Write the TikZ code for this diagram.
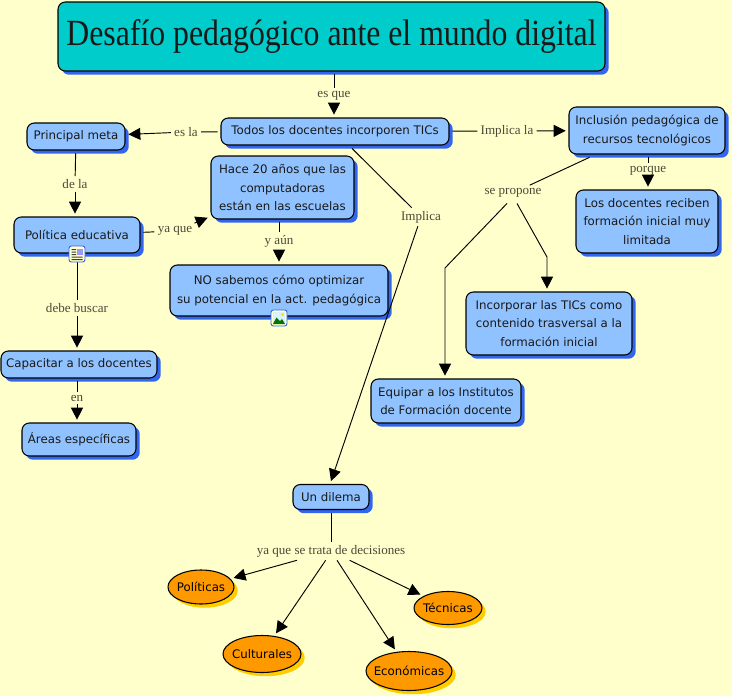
\documentclass[tikz,border=0pt]{standalone}
\usepackage{fontspec}
\setmainfont{DejaVu Sans}
\newfontfamily\titlefont[FakeStretch=0.86]{Liberation Serif}
\newfontfamily\linkfont{Liberation Serif}
\usetikzlibrary{arrows.meta,shadows,shapes.geometric,calc}
\definecolor{bgc}{HTML}{FFFFCC}
\definecolor{boxc}{HTML}{90C2FF}
\definecolor{boxsh}{HTML}{3366EE}
\definecolor{titc}{HTML}{00CCCC}
\definecolor{ellc}{HTML}{FF9900}
\definecolor{ellsh}{HTML}{FFCC00}
\definecolor{linkc}{HTML}{4A4A38}
\def\px{0.75pt}
\tikzset{
  concept/.style={draw=black,line width=0.8pt,rounded corners=5.5pt,fill=boxc,align=center,inner sep=0pt,outer sep=2.5pt,
    general shadow={fill=boxsh,shadow xshift=2.8pt,shadow yshift=-2.8pt},
    font=\fontsize{8.85}{14}\selectfont,text=black!90},
  titlebox/.style={concept,fill=titc,font=\titlefont\fontsize{27.7}{30}\selectfont},
  oval/.style={ellipse,draw=black,line width=0.8pt,fill=ellc,inner sep=0pt,outer sep=2.5pt,
    general shadow={fill=ellsh,shadow xshift=2.8pt,shadow yshift=-2.8pt},
    font=\fontsize{8.85}{14}\selectfont},
  linklabel/.style={inner sep=1pt,outer sep=1.5pt,text=linkc,font=\linkfont\fontsize{9.8}{10}\selectfont},
  plain/.style={draw=black,line width=0.7pt},
  arrowed/.style={plain,-{Triangle[length=9pt,width=9pt]}},
  iconbox/.style={draw=boxsh,line width=0.7pt,fill=bgc,rounded corners=1.8pt,minimum size=12pt,inner sep=0pt}
}
\begin{document}
\begin{tikzpicture}[x=0.75pt,y=-0.75pt]
\useasboundingbox[fill=bgc] (0,0) rectangle (732,696);
% concepts
\node[titlebox,minimum width=547*\px,minimum height=69*\px] (title) at (331.5,36.5) {Desafío pedagógico ante el mundo digital};
\node[concept,minimum width=228*\px,minimum height=27*\px] (todos) at (335,131.5) {Todos los docentes incorporen TICs};
\node[concept,minimum width=98*\px,minimum height=27*\px] (meta) at (76,136.5) {Principal meta};
\node[concept,minimum width=126*\px,minimum height=36*\px] (politica) at (77,235) {Política educativa};
\node[concept,minimum width=143*\px,minimum height=63*\px] (hace) at (282.5,187.5) {Hace 20 años que las\\computadoras\\ están en las escuelas};
\node[concept,minimum width=218*\px,minimum height=51*\px] (nosabemos) at (279,290.5) {NO sabemos cómo optimizar\\su potencial en la act. pedagógica};
\node[concept,minimum width=156*\px,minimum height=27*\px] (capacitar) at (79,364.5) {Capacitar a los docentes};
\node[concept,minimum width=114*\px,minimum height=33*\px] (areas) at (79,439.5) {Áreas específicas};
\node[concept,minimum width=156*\px,minimum height=47*\px] (inclusion) at (647,130.5) {Inclusión pedagógica de\\recursos tecnológicos};
\node[concept,minimum width=142*\px,minimum height=63*\px] (reciben) at (647,221.5) {Los docentes reciben\\formación inicial muy\\limitada};
\node[concept,minimum width=166*\px,minimum height=63*\px] (incorporar) at (549,323.5) {Incorporar las TICs como\\contenido trasversal a la\\formación inicial};
\node[concept,minimum width=150*\px,minimum height=44*\px] (equipar) at (446,401) {Equipar a los Institutos\\de Formación docente};
\node[concept,minimum width=76*\px,minimum height=25*\px] (dilema) at (331,497) {Un dilema};
\node[oval,minimum width=66*\px,minimum height=34*\px] (politicas) at (201,587) {\makebox[0pt]{Políticas}};
\node[oval,minimum width=78*\px,minimum height=37*\px] (culturales) at (262,654) {\makebox[0pt]{Culturales}};
\node[oval,minimum width=68*\px,minimum height=33*\px] (tecnicas) at (448,608) {\makebox[0pt]{Técnicas}};
\node[oval,minimum width=86*\px,minimum height=39*\px] (economicas) at (409,671) {\makebox[0pt]{Económicas}};
% link labels
\node[linklabel] (esque) at (334,96) {es que};
\node[linklabel] (esla) at (186,132) {es la};
\node[linklabel] (implicala) at (507,131) {Implica la};
\node[linklabel] (implica) at (421,217) {Implica};
\node[linklabel] (dela) at (75,184) {de la};
\node[linklabel] (yaque) at (175,231) {ya que};
\node[linklabel] (yaun) at (279,241) {y aún};
\node[linklabel] (debe) at (77,308) {debe buscar};
\node[linklabel] (en) at (77,398) {en};
\node[linklabel] (porque) at (648,171) {porque};
\node[linklabel] (propone) at (513,193) {se propone};
\node[linklabel] (trata) at (331,551) {ya que se trata de decisiones};
% connectors
\draw[plain] (esque |- title.south) -- (esque);
\draw[arrowed] (esque) -- (esque |- todos.north);
\draw[plain] (todos) -- (esla);
\draw[arrowed] (esla) -- (meta);
\draw[plain] (todos) -- (implicala);
\draw[arrowed] (implicala) -- (inclusion);
\draw[plain] (todos) -- (implica);
\draw[arrowed] (implica) -- (dilema.north);
\draw[plain] (meta) -- (dela);
\draw[arrowed] (dela) -- (dela |- politica.north);
\draw[plain] (politica) -- (yaque);
\draw[arrowed] (yaque) -- (hace);
\draw[plain] (yaun |- hace.south) -- (yaun);
\draw[arrowed] (yaun) -- (yaun |- nosabemos.north);
\draw[plain] (politica) -- (debe);
\draw[arrowed] (debe) -- (debe |- capacitar.north);
\draw[plain] (en |- capacitar.south) -- (en);
\draw[arrowed] (en) -- (en |- areas.north);
\draw[plain] (porque |- inclusion.south) -- (porque);
\draw[arrowed] (porque) -- (porque |- reciben.north);
\draw[plain] (inclusion) -- (propone);
\coordinate (bendA) at (547,257);
\coordinate (bendB) at (445,268);
\draw[arrowed] ([xshift=3pt,yshift=-2pt]propone.south) -- (bendA) -- (bendA |- incorporar.north);
\draw[arrowed] ([xshift=-4.5pt,yshift=-2pt]propone.south) -- (bendB) -- (bendB |- equipar.north);
\draw[plain] (dilema) -- (trata);
\draw[arrowed] ([xshift=-25.5pt]trata.south) -- (politicas);
\draw[arrowed] ([xshift=-4pt]trata.south) -- (culturales);
\draw[arrowed] ([xshift=4.5pt]trata.south) -- (economicas);
\draw[arrowed] ([xshift=14pt]trata.south) -- (tecnicas);
% resource icons
\node[iconbox] (iconA) at (77,254) {};
\fill[black!75] (71.5,249) rectangle (76,250.2) (71.5,251.5) rectangle (76,252.7) (71.5,254) rectangle (76,255.2);
\fill[black!75] (71.5,256.5) rectangle (82.5,257.7) (71.5,259) rectangle (82.5,260.2);
\fill[blue!40] (77,248.5) rectangle (82.5,255);
\node[iconbox] (iconB) at (279,318) {};
\fill[cyan!15] (273,312) rectangle (285,324);
\fill[green!45!black] (273,324) -- (276.5,317.5) -- (280,321) -- (282,319) -- (285,324) -- cycle;
\fill[yellow!80!orange] (282.5,314.5) circle (1.6);
\end{tikzpicture}
\end{document}
